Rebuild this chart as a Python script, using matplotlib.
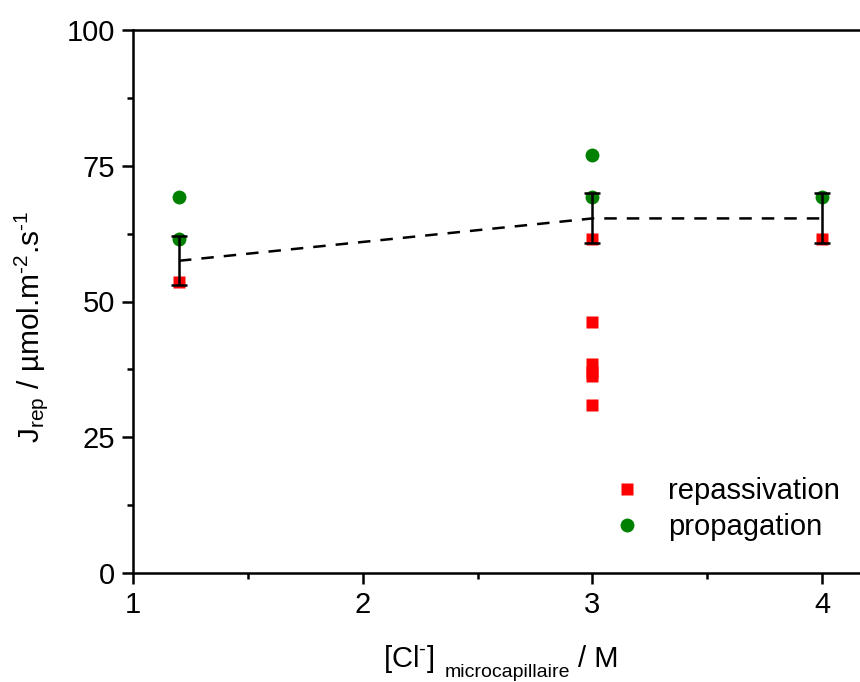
import matplotlib
matplotlib.use('Agg')
import matplotlib.pyplot as plt
from matplotlib.ticker import MultipleLocator

plt.rcParams['font.family'] = ['Liberation Sans', 'DejaVu Sans']
plt.rcParams['mathtext.fontset'] = 'custom'
plt.rcParams['mathtext.rm'] = 'Liberation Sans'
plt.rcParams['mathtext.it'] = 'Liberation Sans:italic'

# data
rep_x = [1.2, 3, 3, 3, 3, 3, 3, 4]
rep_y = [53.6, 61.5, 46.2, 38.5, 37.0, 36.2, 30.9, 61.5]
prop_x = [1.2, 1.2, 3, 3, 4]
prop_y = [69.2, 61.5, 77.0, 69.2, 69.2]
mean_x = [1.2, 3, 4]
mean_y = [57.5, 65.3, 65.3]
mean_err = [4.5, 4.6, 4.6]

W, H = 860, 682
fig = plt.figure(figsize=(W/100, H/100), dpi=100)
ax = fig.add_axes([133/W, 1 - 573/H, (868 - 133)/W, (573 - 30)/H])

# error bars + dashed mean line
ax.errorbar(mean_x, mean_y, yerr=mean_err, fmt='none', ecolor='black',
            elinewidth=1.8, capsize=6, capthick=1.8, zorder=3)
ax.plot(mean_x, mean_y, '--', color='black', lw=1.8, dashes=(5, 4), zorder=3)

ax.plot(rep_x, rep_y, 's', color='red', ms=9, mec='none', label='repassivation', zorder=2)
ax.plot(prop_x, prop_y, 'o', color='green', ms=10, mec='none', label='propagation', zorder=2)

ax.set_xlim(1, 4.2)
ax.set_ylim(0, 100)
ax.xaxis.set_major_locator(MultipleLocator(1))
ax.xaxis.set_minor_locator(MultipleLocator(0.5))
ax.yaxis.set_major_locator(MultipleLocator(25))
ax.yaxis.set_minor_locator(MultipleLocator(12.5))
ax.tick_params(which='major', direction='out', length=8, width=1.8, labelsize=21, pad=5)
ax.tick_params(which='minor', direction='out', length=4, width=1.8)
for s in ax.spines.values():
    s.set_linewidth(1.8)

ax.set_ylabel('J$_{\\rm rep}$ / µmol.m$^{\\rm \u2010 2}$.s$^{\\rm \u2010 1}$', fontsize=21.5)
ax.yaxis.set_label_coords(-0.113, 0.453)

# x label in pieces so the subscript sits low like the original
fig.text(383/W, 1 - 667/H, '[Cl$^{\\rm \u2010}$]', fontsize=21, ha='left', va='baseline')
fig.text(445/W, 1 - 677/H, 'microcapillaire', fontsize=14, ha='left', va='baseline')
fig.text(618/W, 1 - 667/H, '/ M', fontsize=21, ha='right', va='baseline')

ax.legend(loc='lower left', bbox_to_anchor=(0.597, 0.011), frameon=False, fontsize=21,
          handletextpad=0.4, labelspacing=0.25)

fig.savefig('out.png', dpi=100)
